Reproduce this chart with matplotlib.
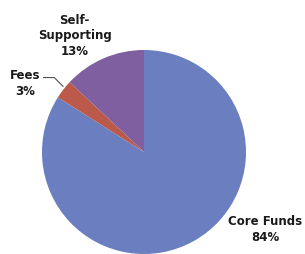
import matplotlib
matplotlib.use("Agg")
import matplotlib.pyplot as plt

labels = ["Core Funds", "Fees", "Self-\nSupporting"]
shares = [84, 3, 13]
colors = ["#6a7ec0", "#bb5a4a", "#7f5f9f"]

fig = plt.figure(figsize=(3.05, 2.54), dpi=100)
# pie centre ~ (144,152) px, radius ~102 px
ax = fig.add_axes([42 / 305, 0 / 254, 204 / 305, 204 / 254])
ax.pie(shares, colors=colors, startangle=90, counterclock=False,
       wedgeprops=dict(linewidth=0))
ax.set_xlim(-1, 1)
ax.set_ylim(-1, 1)
ax.set_aspect("equal")
ax.axis("off")

font = dict(family="DejaVu Sans", weight="bold", fontsize=8.5, color="#1a1a1a",
            ha="center", va="center", linespacing=1.25)

ax.text(1.19, -0.76, f"{labels[0]}\n{shares[0]}%", clip_on=False, **font)
ax.text(-1.17, 0.67, f"{labels[1]}\n{shares[1]}%", clip_on=False, **font)
# leader line for the small slice
ax.plot([-0.99, -0.88, -0.79], [0.73, 0.73, 0.64], color="#505050", lw=0.8,
        clip_on=False, solid_capstyle="butt")
ax.text(-0.68, 1.14, f"{labels[2]}\n{shares[2]}%", clip_on=False, **font)

fig.savefig("out.png", dpi=100)
